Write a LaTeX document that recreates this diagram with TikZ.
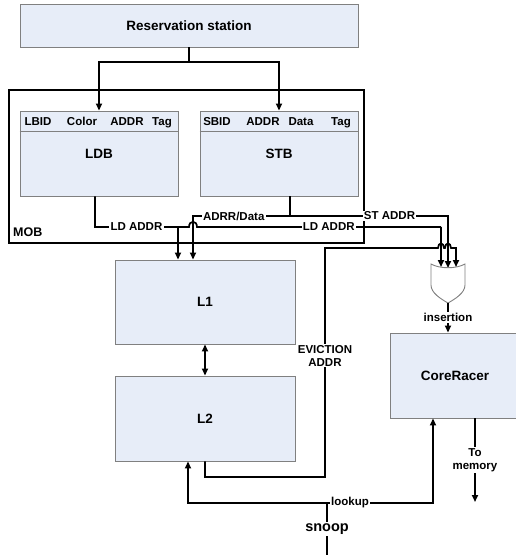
\documentclass[tikz,border=0pt]{standalone}
\usepackage{fontspec}
\setmainfont{Liberation Sans}
\usetikzlibrary{arrows.meta}
\definecolor{boxfill}{RGB}{231,237,248}
\definecolor{boxline}{RGB}{128,128,128}
\tikzset{>={Triangle[length=7pt,width=6pt]}}
\tikzset{
	unit/.style={draw=boxline, fill=boxfill, line width=0.9pt, inner sep=0pt, font=\fontsize{13.5}{15}\selectfont\bfseries},
	bus/.style={line width=1.7pt, black},
	lbl/.style={fill=white, inner sep=1.2pt, align=center, font=\fontsize{11.5}{13}\selectfont\bfseries},
	head/.style={inner sep=0pt, anchor=base, font=\fontsize{11.5}{13}\selectfont\bfseries}
}

\begin{document}
\begin{tikzpicture}[x=1pt, y=-1pt]
	\clip (0,0) rectangle (516,555);

	% blocks
	\node[unit, minimum width=338, minimum height=43] (rs) at (189,25.5) {Reservation station};
	\node[draw, bus, minimum width=355, minimum height=153] (mob) at (186.5,166.5) {};
	\node[inner sep=0pt, font=\fontsize{12.5}{14}\selectfont\bfseries, anchor=west] (moblbl) at (13,232) {MOB};

	\node[unit, minimum width=158, minimum height=85] (ldb) at (99,153.5) {LDB};
	\node[unit, minimum width=158, minimum height=85] (stb) at (279,153.5) {STB};
	\draw[boxline, line width=0.9pt] ([yshift=-21pt]ldb.north west) -- ([yshift=-21pt]ldb.north east);
	\draw[boxline, line width=0.9pt] ([yshift=-21pt]stb.north west) -- ([yshift=-21pt]stb.north east);
	\foreach \x/\t [count=\i] in {38/LBID, 82/Color, 127/ADDR, 162/Tag}
		\node[head] (ldh\i) at (\x,125.5) {\t};
	\foreach \x/\t [count=\i] in {217/SBID, 263/ADDR, 301/Data, 341/Tag}
		\node[head] (sth\i) at (\x,125.5) {\t};

	\node[unit, minimum width=180, minimum height=84] (l1) at (205,302) {L1};
	\node[unit, minimum width=180, minimum height=85] (l2) at (205,418.5) {L2};
	\node[unit, minimum width=130, minimum height=85] (racer) at (455,375.5) {CoreRacer};

	% or gate
	\draw[boxline, line width=0.9pt, fill=white] (431,264) .. controls (440,269) and (456,269) .. (465,264) -- (465,285) .. controls (465,293) and (455,299) .. (448,303) .. controls (441,299) and (431,293) .. (431,285) -- cycle;
	\coordinate (gout) at (448,303);
	\coordinate (gin1) at (441,267);
	\coordinate (gin2) at (448,268);
	\coordinate (gin3) at (456,267);

	% dispatch
	\coordinate (rsj) at (189,62);
	\draw[bus] (rs.south) -- (rsj);
	\draw[bus,->] (rsj) -| (ldb.north);
	\draw[bus,->] (rsj) -| (stb.north);

	% store side
	\coordinate (stj) at (290,216);
	\coordinate (stl) at (193,216);
	\coordinate (stor) at (448,216);
	\draw[bus] ([xshift=11pt]stb.south) -- (stj);
	\draw[bus,->] (stj) -- node[lbl, pos=0.58] {ADRR/Data} (stl) -- (stl |- l1.north);
	\draw[bus,->] (stj) -- node[lbl, pos=0.63] {ST ADDR} (stor) -- (gin2);

	% load side
	\coordinate (ldj) at (178,227);
	\coordinate (ldor) at (441,227);
	\draw[bus] ([xshift=-4pt]ldb.south) |- node[lbl, pos=0.75] {LD ADDR} (ldj) -- (189,227) .. controls (189,220) and (197,220) .. (197,227) -- node[lbl, pos=0.54] {LD ADDR} (ldor);
	\draw[bus,->] (ldj) -- (ldj |- l1.north);
	\draw[bus,->] (ldor) -- (gin1);

	\draw[bus,<->] (l1) -- (l2);

	% eviction
	\coordinate (evb) at (325,477);
	\coordinate (evt) at (325,248);
	\draw[bus,->] (l2.south) |- (evb) -- node[lbl, pos=0.53] {EVICTION\\ADDR} (evt) -- (438,248) .. controls (438,242) and (444,242) .. (444,248) -- (445,248) .. controls (445,242) and (451,242) .. (451,248) -- (456,248) -- (gin3);

	% insertion and memory
	\coordinate (mem) at (475,502);
	\draw[bus,->] (gout) -- node[lbl] {insertion} ([xshift=-7pt]racer.north);
	\draw[bus,->] ([xshift=20pt]racer.south) -- node[lbl] {To\\memory} (mem);

	% snoop
	\coordinate (snp) at (327,555);
	\coordinate (lkj) at (327,503);
	\draw[bus] (snp) -- node[lbl, font=\fontsize{14.5}{16}\selectfont\bfseries] {snoop} (lkj);
	\draw[bus,->] (lkj) -| ([xshift=-17pt]l2.south);
	\draw[bus,->] (lkj) -| ([xshift=-22pt]racer.south);
	\node[lbl] (lookup) at (350,503) {lookup};

\end{tikzpicture}
\end{document}
